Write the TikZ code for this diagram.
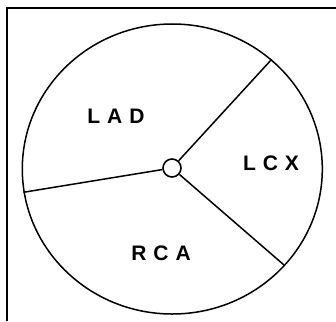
\documentclass[tikz,border=0pt]{standalone}
\usepackage{fontspec}
\setmainfont{Liberation Sans}
\usepackage{tikz}
\usetikzlibrary{positioning}

\begin{document}
\begin{tikzpicture}[
    x=1pt, y=-1pt,
    hub/.style={
        circle,
        draw=black,
        line width=1.6pt,
        fill=white,
        minimum size=18pt,
        inner sep=0pt
    },
    lbl/.style={
        font=\fontsize{21}{21}\selectfont\bfseries,
        inner sep=0pt
    },
    every path/.style={
        draw=black,
        line width=1.5pt
    }
]

\path[use as bounding box, draw=none] (0,0) rectangle (336,321);

% frame
\draw[line width=2.2pt] (7,321) -- (7,8) -- (336,8);

% outer ring
\draw (172.3,169) ellipse [x radius=150, y radius=145];

\coordinate (ne) at (271.7,59.3);
\coordinate (se) at (284,265);
\coordinate (w) at (23.3,192.3);

\node[hub] (c) at (172,168) {};

\draw (c)--(ne);
\draw (c)--(se);
\draw (c)--(w);

\node[lbl] (lad) at (116,116) {L\hspace{7pt}A\hspace{7pt}D};
\node[lbl] (lcx) at (271,163) {L\hspace{7pt}C\hspace{7pt}X};
\node[lbl] (rca) at (161,253.5) {R\hspace{7pt}C\hspace{7pt}A};

\end{tikzpicture}
\end{document}
